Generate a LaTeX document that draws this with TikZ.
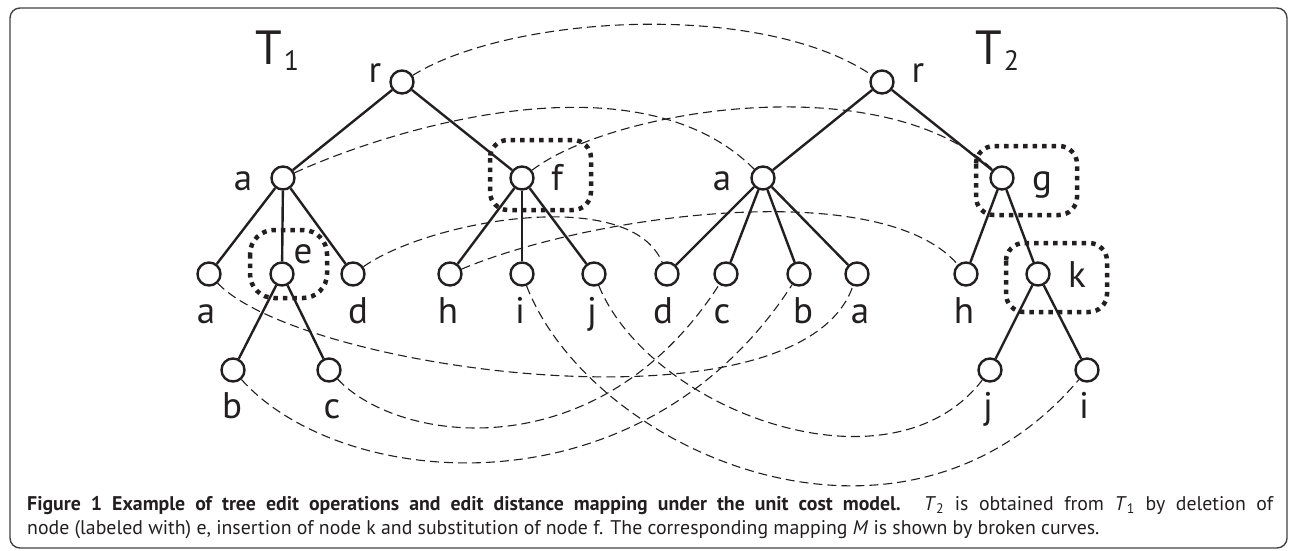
\documentclass[tikz,border=0pt]{standalone}
\usepackage{fontspec}
\setmainfont{PT Sans}
\usepackage{tikz}
\definecolor{ink}{HTML}{231F20}
\newcommand{\labsize}{\fontsize{37}{37}\selectfont}
\newcommand{\capsize}{\fontsize{19.8}{24}\selectfont}

\begin{document}
\begin{tikzpicture}[x=1pt,y=-1pt,
  vtx/.style={circle,draw=ink,line width=2.4pt,fill=white,minimum size=23pt,inner sep=0pt},
  edge/.style={draw=ink,line width=2.4pt},
  lab/.style={anchor=base,inner sep=0pt,text=ink,font=\labsize},
  opbox/.style={draw=ink,line width=4.5pt,dash pattern=on 4.5pt off 5pt,rounded corners=18pt},
  mapline/.style={draw=ink,line width=1.1pt,dash pattern=on 9pt off 5pt},
  capt/.style={anchor=base west,inner sep=0pt,text=ink,font=\capsize}]
\useasboundingbox (0,0) rectangle (1295,551);

% Frame:
\draw [ink!85, line width=1.4pt, rounded corners=10pt] (10,8) rectangle (1287,548);

% Tree T1
\node [vtx] (r1) at (402,82) {};
\node [vtx] (a1) at (283,178) {};
\node [vtx] (f1) at (522,178) {};
\node [vtx] (la1) at (209,274) {};
\node [vtx] (e1) at (282,274) {};
\node [vtx] (d1) at (353,274) {};
\node [vtx] (h1) at (450,274) {};
\node [vtx] (i1) at (522,274) {};
\node [vtx] (j1) at (594,274) {};
\node [vtx] (b1) at (233,370) {};
\node [vtx] (c1) at (329,370) {};

% Tree T2
\node [vtx] (r2) at (882,82) {};
\node [vtx] (a2) at (763,178) {};
\node [vtx] (g2) at (1002,178) {};
\node [vtx] (d2) at (667,274) {};
\node [vtx] (c2) at (726,274) {};
\node [vtx] (b2) at (799,274) {};
\node [vtx] (la2) at (857,274) {};
\node [vtx] (h2) at (966,274) {};
\node [vtx] (k2) at (1038,274) {};
\node [vtx] (j2) at (990,370) {};
\node [vtx] (i2) at (1087,370) {};

% Edges
\foreach \p/\c in {r1/a1, r1/f1, a1/la1, a1/e1, a1/d1, e1/b1, e1/c1, f1/h1, f1/i1, f1/j1,
                   r2/a2, r2/g2, a2/d2, a2/c2, a2/b2, a2/la2, g2/h2, g2/k2, k2/j2, k2/i2}
  \draw [edge] (\p) -- (\c);

% Edit operations
\draw [opbox, rounded corners=24pt] (250,230) rectangle (327,298);
\draw [opbox] (490,140) rectangle (591,210);
\draw [opbox] (976,146) rectangle (1077,215);
\draw [opbox] (1006,243) rectangle (1107,312);

% Mapping M
\draw [mapline] (r1) .. controls (510,15) and (760,0) .. (r2);
\draw [mapline] (a1) .. controls (400,125) and (640,55) .. (a2);
\draw [mapline] (f1) .. controls (610,110) and (880,65) .. (g2);
\draw [mapline] (d1) .. controls (430,220) and (630,185) .. (d2);
\draw [mapline] (h1) .. controls (590,215) and (880,175) .. (h2);
\draw [mapline] (la1) .. controls (300,370) and (800,440) .. (la2);
\draw [mapline] (b1) .. controls (340,490) and (640,520) .. (b2);
\draw [mapline] (c1) .. controls (400,445) and (600,470) .. (c2);
\draw [mapline] (i1) .. controls (590,450) and (900,590) .. (i2);
\draw [mapline] (j1) .. controls (650,410) and (890,500) .. (j2);

% Labels
\node [anchor=base west, inner sep=0pt, text=ink, font=\fontsize{48}{48}\selectfont] (t1) at (255,64)
  {T\kern2pt\raisebox{-6pt}{\fontsize{28}{28}\selectfont 1}};
\node [anchor=base west, inner sep=0pt, text=ink, font=\fontsize{48}{48}\selectfont] (t2) at (975,64)
  {T\kern2pt\raisebox{-6pt}{\fontsize{28}{28}\selectfont 2}};
\node [lab] (r1l) at (375,82) {r};
\node [lab] (a1l) at (243,190) {a};
\node [lab] (f1l) at (557,190) {f};
\node [lab] (e1l) at (303,263) {e};
\node [lab] (la1l) at (206,323) {a};
\node [lab] (d1l) at (358,323) {d};
\node [lab] (h1l) at (448,323) {h};
\node [lab] (i1l) at (520,323) {i};
\node [lab] (j1l) at (592,323) {j};
\node [lab] (b1l) at (232,418) {b};
\node [lab] (c1l) at (332,418) {c};
\node [lab] (r2l) at (918,82) {r};
\node [lab] (a2l) at (722,190) {a};
\node [lab] (g2l) at (1042,190) {g};
\node [lab] (k2l) at (1077,287) {k};
\node [lab] (d2l) at (663,323) {d};
\node [lab] (c2l) at (722,323) {c};
\node [lab] (b2l) at (803,323) {b};
\node [lab] (la2l) at (860,323) {a};
\node [lab] (h2l) at (964,323) {h};
\node [lab] (j2l) at (988,418) {j};
\node [lab] (i2l) at (1084,418) {i};

% Caption
\node [capt] (cap1) at (27,510) {\hbox to 1246pt{\textbf{Figure 1 Example of tree edit operations and edit distance mapping under the unit cost model.} \textit{T}\textsubscript{2} is obtained from \textit{T}\textsubscript{1} by deletion of}};
\node [capt] (cap2) at (27,534) {node (labeled with) e, insertion of node k and substitution of node f. The corresponding mapping \textit{M} is shown by broken curves.};
\end{tikzpicture}
\end{document}
